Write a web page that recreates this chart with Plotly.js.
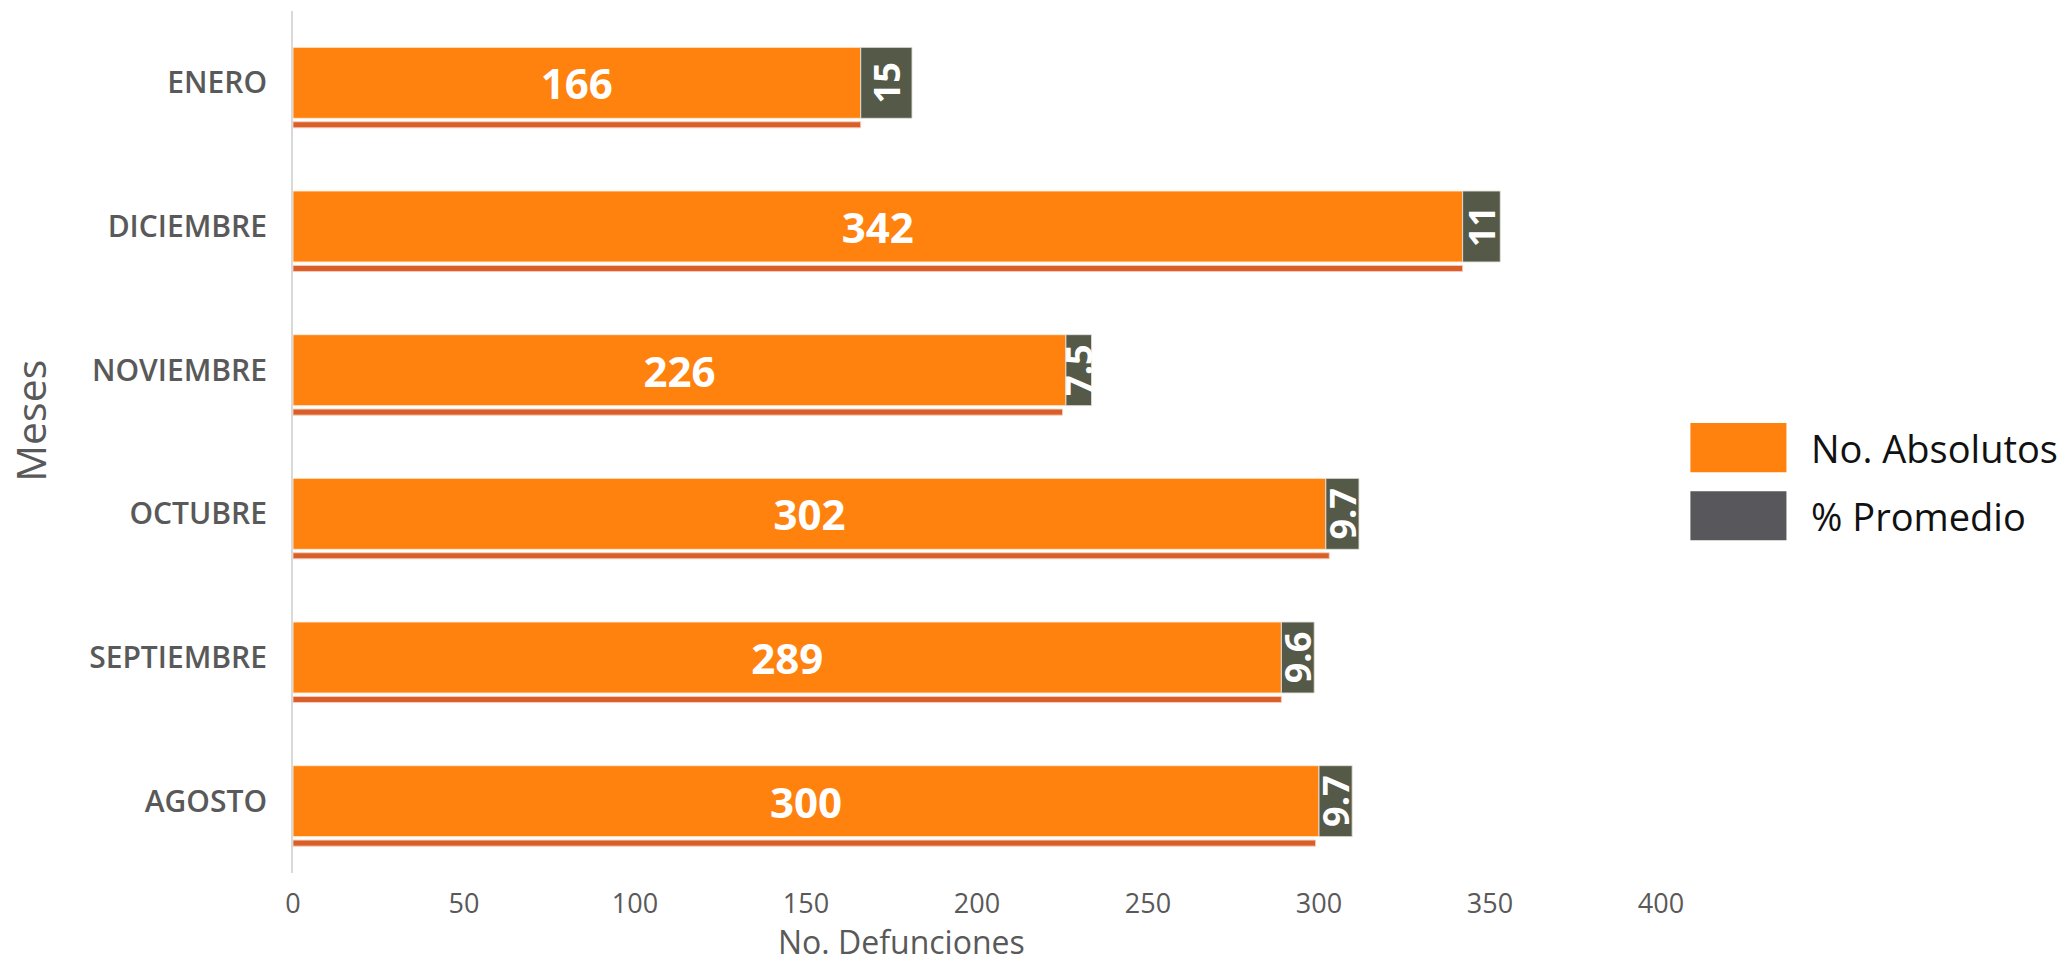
<!DOCTYPE html>
<html>
<head>
<meta charset="utf-8">
<script src="https://cdn.plot.ly/plotly-3.0.1.min.js"></script>
<style>
  html, body { margin: 0; padding: 0; background: #ffffff; }
  #chart { width: 2067px; height: 965px; }
</style>
</head>
<body>
<div id="chart"></div>
<script>
// Categories (bottom to top as drawn by the y axis)
var categories = ['AGOSTO', 'SEPTIEMBRE', 'OCTUBRE', 'NOVIEMBRE', 'DICIEMBRE', 'ENERO'];
// No. Absolutos (defunciones)
var absolutos = [300, 289, 302, 226, 342, 166];
// % Promedio
var promedio = [9.7, 9.6, 9.7, 7.5, 11, 15];
// Thin underline series under each bar
var subrayado = [299, 289, 303, 225, 342, 166];
// X tick values
var xTicks = [0, 50, 100, 150, 200, 250, 300, 350, 400];

var FONT = 'Open Sans, Roboto, sans-serif';
var TXT = '#595959';

var traceLine = {
  type: 'bar', orientation: 'h',
  y: categories, x: subrayado,
  width: 0.042, offset: -0.313,
  marker: { color: '#D95F2A', line: { color: 'rgba(250,205,185,0.9)', width: 1 } },
  hoverinfo: 'skip', showlegend: false
};

var traceAbs = {
  type: 'bar', orientation: 'h', name: 'No. Absolutos',
  y: categories, x: absolutos,
  width: 0.494,
  marker: { color: '#FF820F', line: { color: 'rgba(255,235,215,0.9)', width: 1 } },
  text: absolutos.map(String),
  textposition: 'inside', insidetextanchor: 'middle', textangle: 0,
  constraintext: 'none',
  textfont: { family: FONT, size: 42, color: '#ffffff', weight: 700 },
  hoverinfo: 'skip', showlegend: false
};

var tracePct = {
  type: 'bar', orientation: 'h', name: '% Promedio',
  y: categories, x: promedio, base: absolutos,
  width: 0.494,
  marker: { color: '#555947', line: { color: 'rgba(225,225,220,0.9)', width: 1 } },
  text: promedio.map(String),
  textposition: 'inside', insidetextanchor: 'middle', textangle: -90,
  constraintext: 'none',
  textfont: { family: FONT, size: 36, color: '#ffffff', weight: 700 },
  hoverinfo: 'skip', showlegend: false
};

var layout = {
  width: 2067, height: 965,
  margin: { l: 293, r: 406, t: 11, b: 92 },
  paper_bgcolor: '#ffffff', plot_bgcolor: '#ffffff',
  barmode: 'overlay',
  font: { family: FONT, color: TXT },
  xaxis: {
    range: [0, 400], tickvals: xTicks, ticktext: xTicks.map(String),
    showgrid: false, zeroline: false, showline: false, ticks: '',
    ticklabelstandoff: 12,
    tickfont: { family: FONT, size: 27, color: TXT }
  },
  yaxis: {
    type: 'category', range: [-0.5, 5.5],
    showgrid: false, zeroline: false,
    showline: true, linecolor: '#D9D9D9', linewidth: 2,
    ticks: '', ticklabelstandoff: 18,
    tickfont: { family: FONT, size: 30, color: TXT, weight: 600 }
  },
  annotations: [
    { text: 'No. Defunciones', xref: 'paper', yref: 'paper', x: 0.445, y: -0.1067,
      xanchor: 'center', yanchor: 'bottom', showarrow: false,
      font: { family: FONT, size: 32, color: TXT } },
    { text: 'Meses', xref: 'paper', yref: 'paper', x: -0.192, y: 0.525,
      xanchor: 'center', yanchor: 'middle', showarrow: false, textangle: -90,
      font: { family: FONT, size: 41, color: TXT } },
    { text: 'No. Absolutos', xref: 'paper', yref: 'paper', x: 1.108, y: 0.4935,
      xanchor: 'left', yanchor: 'middle', showarrow: false,
      font: { family: FONT, size: 38, color: '#111111' } },
    { text: '% Promedio', xref: 'paper', yref: 'paper', x: 1.108, y: 0.4146,
      xanchor: 'left', yanchor: 'middle', showarrow: false,
      font: { family: FONT, size: 38, color: '#111111' } }
  ],
  shapes: [
    { type: 'rect', xref: 'paper', yref: 'paper', x0: 1.0215, x1: 1.0917, y0: 0.465, y1: 0.522,
      fillcolor: '#FF820F', line: { width: 0 } },
    { type: 'rect', xref: 'paper', yref: 'paper', x0: 1.0215, x1: 1.0917, y0: 0.386, y1: 0.443,
      fillcolor: '#57575C', line: { width: 0 } }
  ]
};

Plotly.newPlot('chart', [traceLine, traceAbs, tracePct], layout, { displayModeBar: false, staticPlot: true });
</script>
</body>
</html>
